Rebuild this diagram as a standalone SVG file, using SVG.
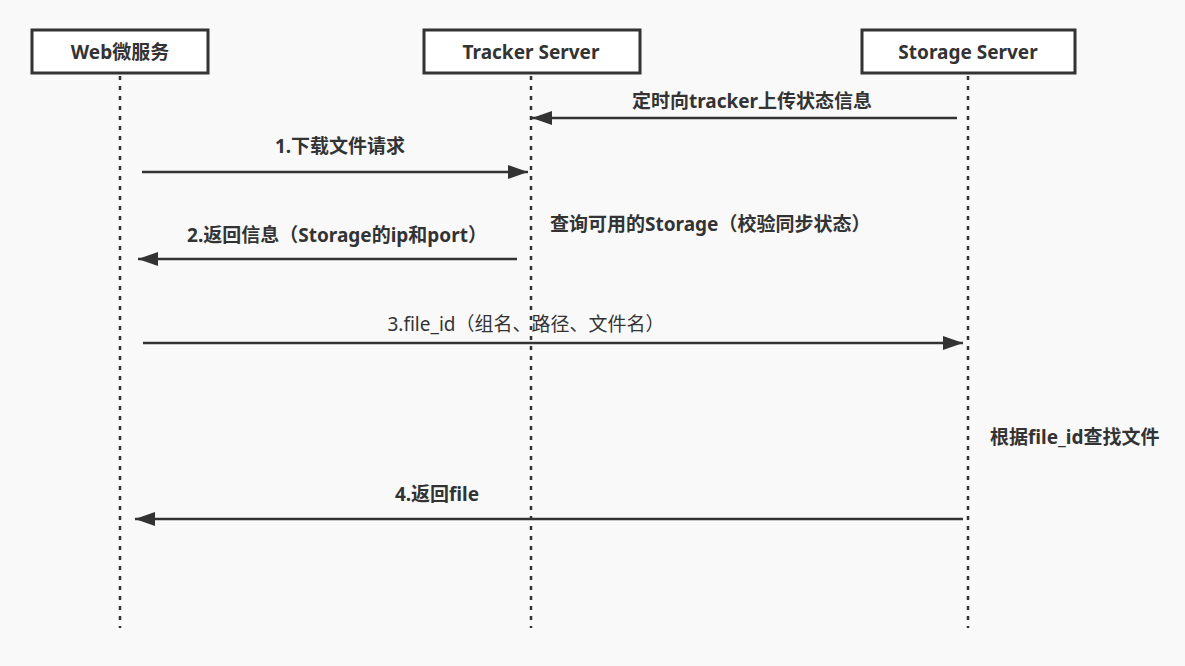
<svg xmlns="http://www.w3.org/2000/svg" width="1185" height="666" viewBox="0 0 1185 666">
<style>
.bg{fill:#f9f9f9}
.box{fill:#ffffff;stroke:#333333;stroke-width:3}
.life{stroke:#333333;stroke-width:2.5;stroke-dasharray:4 6;fill:none}
.msg{stroke:#333333;stroke-width:2.5;fill:none}
.t{font-family:"Noto Sans","Noto Sans CJK SC",sans-serif;font-weight:bold;font-size:19px;fill:#333333}
.n{font-family:"Noto Sans","Noto Sans CJK SC",sans-serif;font-weight:normal;font-size:19px;fill:#333333}
</style>
<defs>
<marker id="ah" markerUnits="userSpaceOnUse" markerWidth="22" markerHeight="16" viewBox="0 0 22 16" refX="20" refY="8" orient="auto">
<path d="M0,1 L20,8 L0,15 Z" fill="#333333"/>
</marker>
</defs>
<rect class="bg" x="0" y="0" width="1185" height="666"/>
<g id="web">
<rect class="box" x="32" y="30" width="176" height="43"/>
<text class="t" x="120" y="59" text-anchor="middle">Web微服务</text>
</g>
<g id="tracker">
<rect class="box" x="424" y="30" width="216" height="43"/>
<text class="t" x="531" y="59" text-anchor="middle">Tracker Server</text>
</g>
<g id="storage">
<rect class="box" x="862" y="30" width="213" height="43"/>
<text class="t" x="968" y="59" text-anchor="middle">Storage Server</text>
</g>
<g id="lifelines">
<line class="life" x1="120" y1="76" x2="120" y2="628"/>
<line class="life" x1="531" y1="76" x2="531" y2="628"/>
<line class="life" x1="968" y1="76" x2="968" y2="628"/>
</g>
<g id="connectors">
<line class="msg" x1="957" y1="118" x2="532" y2="118" marker-end="url(#ah)"/>
<line class="msg" x1="142" y1="172" x2="528" y2="172" marker-end="url(#ah)"/>
<line class="msg" x1="517" y1="259" x2="138" y2="259" marker-end="url(#ah)"/>
<line class="msg" x1="143" y1="343" x2="963" y2="343" marker-end="url(#ah)"/>
<line class="msg" x1="963" y1="519" x2="135" y2="519" marker-end="url(#ah)"/>
</g>
<g id="labels">
<text class="t" x="752" y="108" text-anchor="middle">定时向tracker上传状态信息</text>
<text class="t" x="340" y="153" text-anchor="middle">1.下载文件请求</text>
<text class="t" x="337" y="242" text-anchor="middle">2.返回信息（Storage的ip和port）</text>
<text class="t" x="550" y="231">查询可用的Storage（校验同步状态）</text>
<text class="n" x="526" y="331" text-anchor="middle">3.file_id（组名、路径、文件名）</text>
<text class="t" x="990" y="444">根据file_id查找文件</text>
<text class="t" x="437" y="501" text-anchor="middle">4.返回file</text>
</g>
</svg>
